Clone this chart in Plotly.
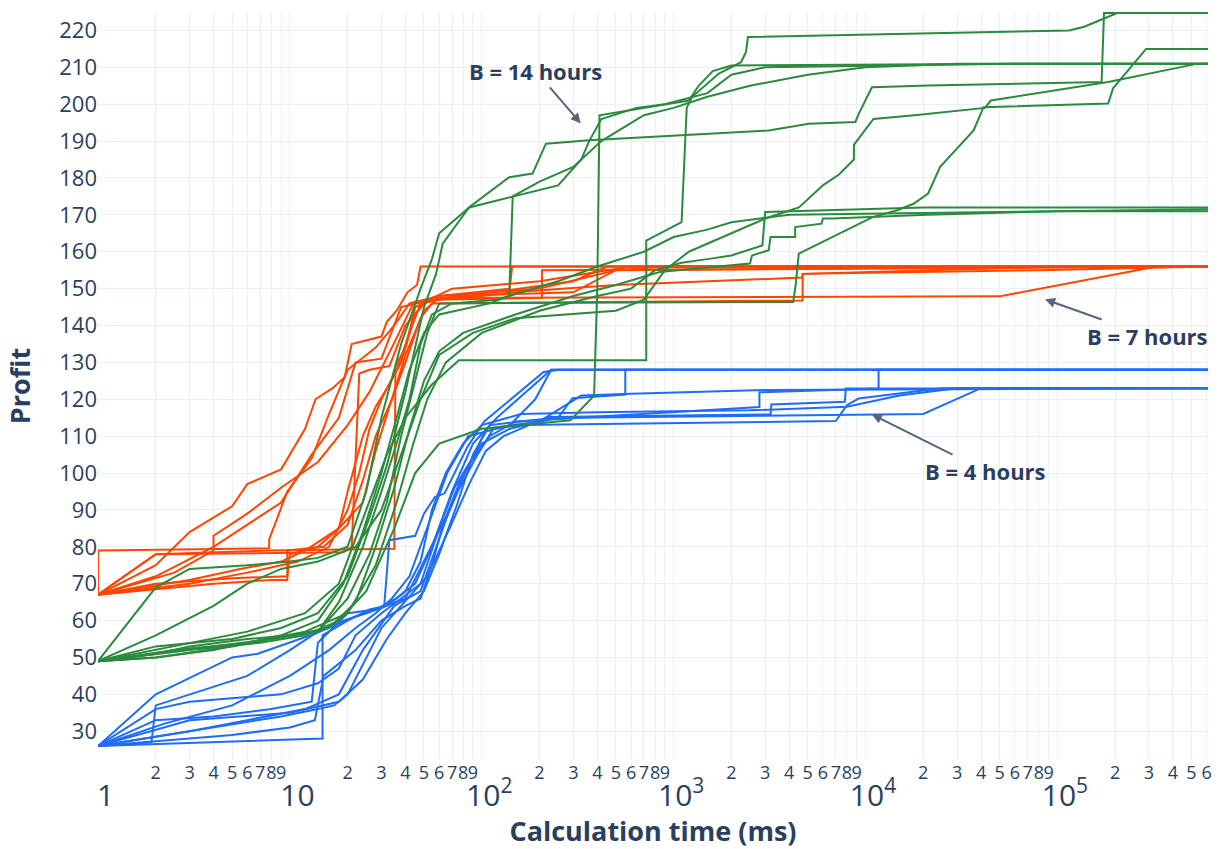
import math
import plotly.graph_objects as go

# ---------------- data ----------------
# B = 7 hours (orange)
B7_TIMES = [
    [1, 2, 3, 5, 6, 9, 12, 13.6, 16.7, 19.3, 21, 30, 32, 36, 41, 46, 48, 6.1e5],
    [1, 1, 7.8, 7.8, 9.7, 13, 16, 20, 28, 35, 42, 60, 140, 144, 6.1e5],
    [1, 2, 4, 6, 9, 13, 18, 22, 30, 38, 55, 206, 206, 1e4, 6.1e5],
    [1, 2.5, 4, 4, 6, 9, 14, 20, 26, 34, 44, 60, 300, 450, 6.1e5],
    [1, 3, 5.5, 9, 12, 18, 24, 28, 33, 40, 48, 55, 4700, 4700, 1e5, 6.1e5],
    [1, 4, 8, 9.7, 9.7, 15, 20, 24, 28, 34, 40, 50, 60, 5e4, 3.3e5, 6.1e5],
    [1, 2, 19, 21, 23, 26, 33, 40, 50, 70, 300, 500, 6.1e5],
    [1, 2, 7.8, 35, 35.5, 40, 45, 60, 200, 500, 900, 6.1e5],
    [1, 2, 5, 9.7, 10, 14, 18, 20, 24, 28, 33, 38, 45, 52, 100, 144, 500, 4700, 4700, 8e4, 6.1e5],
    [1, 3, 6, 11, 16, 20, 23, 26, 30, 36, 42, 48, 70, 200, 600, 6.1e5],
]
B7_PROFITS = [
    [67, 75, 84, 91, 97, 101, 112, 120, 123, 126, 135, 137, 141, 144, 149, 151, 156, 156],
    [67, 79, 79.6, 82, 95, 104, 116, 128, 134, 140, 146, 148, 150, 156, 156],
    [67, 72, 80, 86, 92, 105, 115, 130, 131, 145, 147, 147.5, 155, 155.5, 156],
    [67, 73, 79, 83, 89, 96, 103, 113, 122, 134, 146, 147, 152, 156, 156],
    [67, 71, 74, 76, 79, 85, 92, 106, 118, 130, 142, 146, 146.8, 154, 156, 156],
    [67, 70, 71, 71, 79, 80, 86, 98, 110, 120, 132, 144, 147.5, 147.9, 156, 156],
    [67, 78, 78.5, 80, 127, 128, 129, 140, 146, 148, 149, 155, 156],
    [67, 78, 79, 79.5, 129, 134, 145, 148, 150, 155, 156, 156],
    [67, 70, 71.5, 72, 78, 80, 85, 95, 110, 118, 124, 130, 143, 147, 148, 149, 151, 153, 154, 155, 156],
    [67, 70, 73, 76, 80, 90, 100, 112, 120, 128, 138, 146, 150, 152, 156, 156],
]

# B = 14 hours (green)
B14_TIMES = [
    [1, 2.5, 6, 12, 18, 25, 32, 40, 55, 76, 720, 720, 1100, 1170, 1250, 1722, 2244, 2381, 2440, 1.15e5, 1.38e5, 2.05e5, 6.1e5],
    [1, 2, 4, 8, 14, 20, 26, 32, 38, 45, 52, 60, 4200, 4335, 4490, 1.09e4, 1.45e4, 1.78e4, 2.12e4, 2.45e4, 3.66e4, 4.12e4, 1.84e5, 1.95e5, 2.45e5, 2.9e5, 6.1e5],
    [1, 2, 5, 9, 14, 20, 26, 32, 40, 50, 57.8, 62.6, 86, 139, 184, 216, 363, 3135, 5060, 8860, 9220, 1.08e4, 2.13e4, 1.7e5, 1.75e5, 6.1e5],
    [1, 3, 7, 12, 18, 25, 35, 45, 60, 100, 290, 385, 400, 411, 850, 1200, 1350, 1600, 2000, 1e5, 6.1e5],
    [1, 2, 3, 6, 10, 14, 20, 25, 30, 38, 48, 55, 60, 86, 250, 330, 363, 420, 640, 900, 1500, 2000, 3000, 6e4, 6.1e5],
    [1, 2, 4, 6, 9, 14, 22, 30, 38, 48, 60, 90, 150, 500, 700, 900, 1200, 2000, 3000, 4500, 6000, 7300, 8700, 8700, 1.1e4, 1.8e4, 4.2e4, 4.5e4, 1.84e5, 5.4e5, 6.1e5],
    [1, 2, 5, 10, 16, 22, 28, 35, 42, 50, 60, 80, 150, 300, 500, 846, 2500, 2560, 3130, 3200, 4300, 4300, 5900, 6000, 6750, 2.1e4, 1e5, 6.1e5],
    [1, 2.5, 6, 12, 20, 28, 36, 44, 52, 65, 100, 200, 400, 600, 800, 1100, 1500, 2000, 2900, 3000, 2e4, 6.1e5],
    [1, 2, 3, 6, 10, 14, 18, 24, 30, 36, 42, 48, 55, 70, 120, 250, 400, 700, 1000, 1500, 2000, 4000, 1e5, 6.1e5],
    [1, 2, 4, 9, 14, 19, 24, 30, 36, 42, 50, 60, 110, 139, 145, 200, 300, 420, 700, 1000, 1500, 2500, 5000, 1e4, 3e4, 6.1e5],
]
B14_PROFITS = [
    [49, 53, 57, 62, 70, 90, 105, 115, 124, 130.6, 130.6, 163, 168, 199, 202, 208.3, 211.4, 214.1, 218.2, 220, 221, 224.7, 224.7],
    [49, 51, 53, 55, 57, 66, 78, 92, 110, 125, 138, 146, 146.4, 151.4, 159.5, 169.4, 171.2, 173, 175.8, 183, 192.9, 199.2, 200.2, 204.3, 210.5, 215, 215],
    [49, 53, 55, 58, 62, 72, 88, 102, 122, 145, 154, 162.2, 172.1, 180.2, 181.2, 189.3, 190.2, 192.9, 194.7, 195.2, 197.4, 204.6, 205.1, 206, 224.7, 224.7],
    [49, 52, 54, 56, 60, 68, 85, 100, 108, 112, 114.3, 121, 150, 197, 199.7, 201, 205, 209, 210.5, 211, 211],
    [49, 69, 74, 75, 76, 77, 80, 95, 115, 135, 150, 158, 165, 172, 178, 185, 190, 196, 199, 200, 203, 208, 210, 211, 211],
    [49, 56, 64, 70, 74, 76, 80, 90, 105, 120, 132, 138, 142, 144, 147, 155, 160, 165, 169, 172, 178, 181, 185, 189, 196, 197, 199, 201, 206, 211, 211],
    [49, 50, 53, 56, 58, 65, 80, 96, 112, 125, 133, 138, 143, 148, 151, 154.5, 156.8, 159, 160.4, 164, 164, 166.7, 167.6, 169, 169, 170, 171, 171.5],
    [49, 52, 54, 57, 62, 75, 92, 108, 120, 130, 138, 144, 148, 150, 155, 157, 158, 159, 161.7, 170.8, 172, 172],
    [49, 51, 53, 55, 56, 57, 65, 80, 95, 108, 120, 135, 143, 146, 147, 152, 156, 160, 164, 166, 168, 170, 171, 171],
    [49, 50, 52, 56, 60, 70, 84, 100, 115, 128, 138, 143, 146, 148, 175, 179, 183, 190, 197, 199, 202, 205, 208, 210, 211, 211],
]

# B = 4 hours (blue)
B4_TIMES = [
    [1, 2, 5, 6.8, 13.6, 21.7, 31, 33, 45, 50, 57, 64, 84, 103, 210, 254, 6.1e5],
    [1, 2, 4, 8, 13, 14, 20, 28, 36, 45, 55, 70, 90, 120, 170, 230, 6.1e5],
    [1, 1.9, 2, 6, 10, 14, 19, 25, 40, 50, 65, 80, 100, 140, 250, 297, 560, 560, 6.1e5],
    [1, 3, 6, 12, 18, 24, 35, 48, 58, 70, 85, 110, 150, 2800, 2800, 1.17e4, 1.17e4, 6.1e5],
    [1, 4, 9, 14, 17, 20, 25, 30, 38, 52, 68, 86, 105, 130, 220, 3200, 3230, 7800, 7900, 6.1e5],
    [1, 5, 10, 13.5, 15, 22, 30, 40, 48, 55, 62, 75, 95, 115, 160, 7000, 8000, 9200, 2e4, 2.5e4, 6.1e5],
    [1, 14.8, 14.8, 20, 26, 32, 40, 48, 55, 65, 80, 100, 160, 400, 2500, 8000, 1.5e4, 3e4, 6.1e5],
    [1, 2, 3, 9, 14, 18, 22, 30, 38, 48, 60, 72, 90, 105, 200, 330, 600, 3000, 6.1e5],
    [1, 3, 10, 18, 24, 28, 32, 40, 50, 60, 75, 90, 110, 200, 300, 2e4, 4e4, 6.1e5],
    [1, 2.2, 5, 10, 16, 22, 28, 34, 42, 52, 66, 85, 140, 190, 230, 6.1e5],
]
B4_PROFITS = [
    [26, 40, 50, 51, 56.5, 61, 63.7, 81.8, 83, 89, 93.5, 94.5, 107, 114, 127.4, 128, 128],
    [26, 33, 34, 36, 38, 54, 62, 63, 66, 70, 80, 95, 108, 115, 122, 128, 128],
    [26, 27, 37, 45, 52, 57, 60, 62, 66, 76, 88, 100, 108, 112, 115, 120.3, 121.3, 128, 128],
    [26, 30, 33, 36, 40, 52, 64, 68, 80, 92, 102, 110, 114, 117.9, 121.9, 122.9, 128, 128],
    [26, 31, 34, 36, 37, 40, 50, 58, 64, 72, 85, 97, 106, 110, 115.2, 115.9, 118.6, 119.3, 122.9, 123],
    [26, 29, 31, 33, 45, 52, 60, 64, 66, 75, 85, 95, 105, 112, 113, 114.1, 118.4, 120.2, 122.4, 123, 123],
    [26, 28, 56, 60, 63, 64, 68, 76, 90, 100, 108, 113, 116, 116.5, 117, 118, 121, 123, 123],
    [26, 36, 38, 40, 43, 47, 56, 62, 66, 70, 85, 96, 104, 112, 114, 121, 121.5, 122.5, 123],
    [26, 33, 35, 38, 44, 50, 55, 62, 68, 78, 92, 105, 113, 114.5, 115, 116, 123, 123],
    [26, 32, 37, 45, 52, 58, 62, 66, 72, 85, 100, 110, 113, 120, 128, 128],
]

GROUPS = ["B = 7 hours", "B = 4 hours", "B = 14 hours"]
COLORS = {"B = 7 hours": "#ff4500", "B = 4 hours": "#1f6cf7", "B = 14 hours": "#2b8a3e"}

ANNOT_TEXT = ["B = 14 hours", "B = 7 hours", "B = 4 hours"]
ANNOT_TIME = [328, 8.63e4, 1.08e4]
ANNOT_PROFIT = [194.8, 147.1, 115.9]

# ---------------- figure ----------------
fig = go.Figure()
series = {
    "B = 7 hours": (B7_TIMES, B7_PROFITS),
    "B = 4 hours": (B4_TIMES, B4_PROFITS),
    "B = 14 hours": (B14_TIMES, B14_PROFITS),
}
for g in GROUPS:
    ts, ps = series[g]
    for t, p in zip(ts, ps):
        fig.add_trace(go.Scatter(
            x=t, y=p, mode="lines", name=g, showlegend=False,
            line=dict(color=COLORS[g], width=2),
        ))

offsets = [(-45, -52.6), (102.8, 36.7), (113.7, 56.7)]
for txt, tx, py, (dx, dy) in zip(ANNOT_TEXT, ANNOT_TIME, ANNOT_PROFIT, offsets):
    fig.add_annotation(
        x=math.log10(tx), y=py, xref="x", yref="y",
        text=f"<b>{txt}</b>", showarrow=True,
        ax=dx, ay=dy, axref="pixel", ayref="pixel",
        arrowhead=2, arrowsize=1, arrowwidth=2, arrowcolor="#56657d",
        font=dict(size=22, color="#2a3f5f"),
    )

fig.update_layout(
    template="plotly_white",
    width=1222, height=849,
    margin=dict(l=98, r=14, t=12, b=89, autoexpand=False),
    font=dict(family="Open Sans, verdana, arial, sans-serif", color="#2a3f5f"),
    showlegend=False,
)
fig.update_xaxes(
    type="log", range=[0, 5.785], dtick="D1", exponentformat="power",
    tickfont=dict(size=24), showline=False, zeroline=False, automargin=False,
    gridcolor="#EBF0F8",
    title=dict(text="<b>Calculation time (ms)</b>", font=dict(size=27), standoff=10),
)
fig.update_yaxes(
    range=[22.2, 225.0], dtick=10, tick0=0,
    tickfont=dict(size=22), showline=False, zeroline=False, automargin=False,
    gridcolor="#EBF0F8",
    title=dict(text="<b>Profit</b>", font=dict(size=27), standoff=20),
)

fig.write_html("out.html")
